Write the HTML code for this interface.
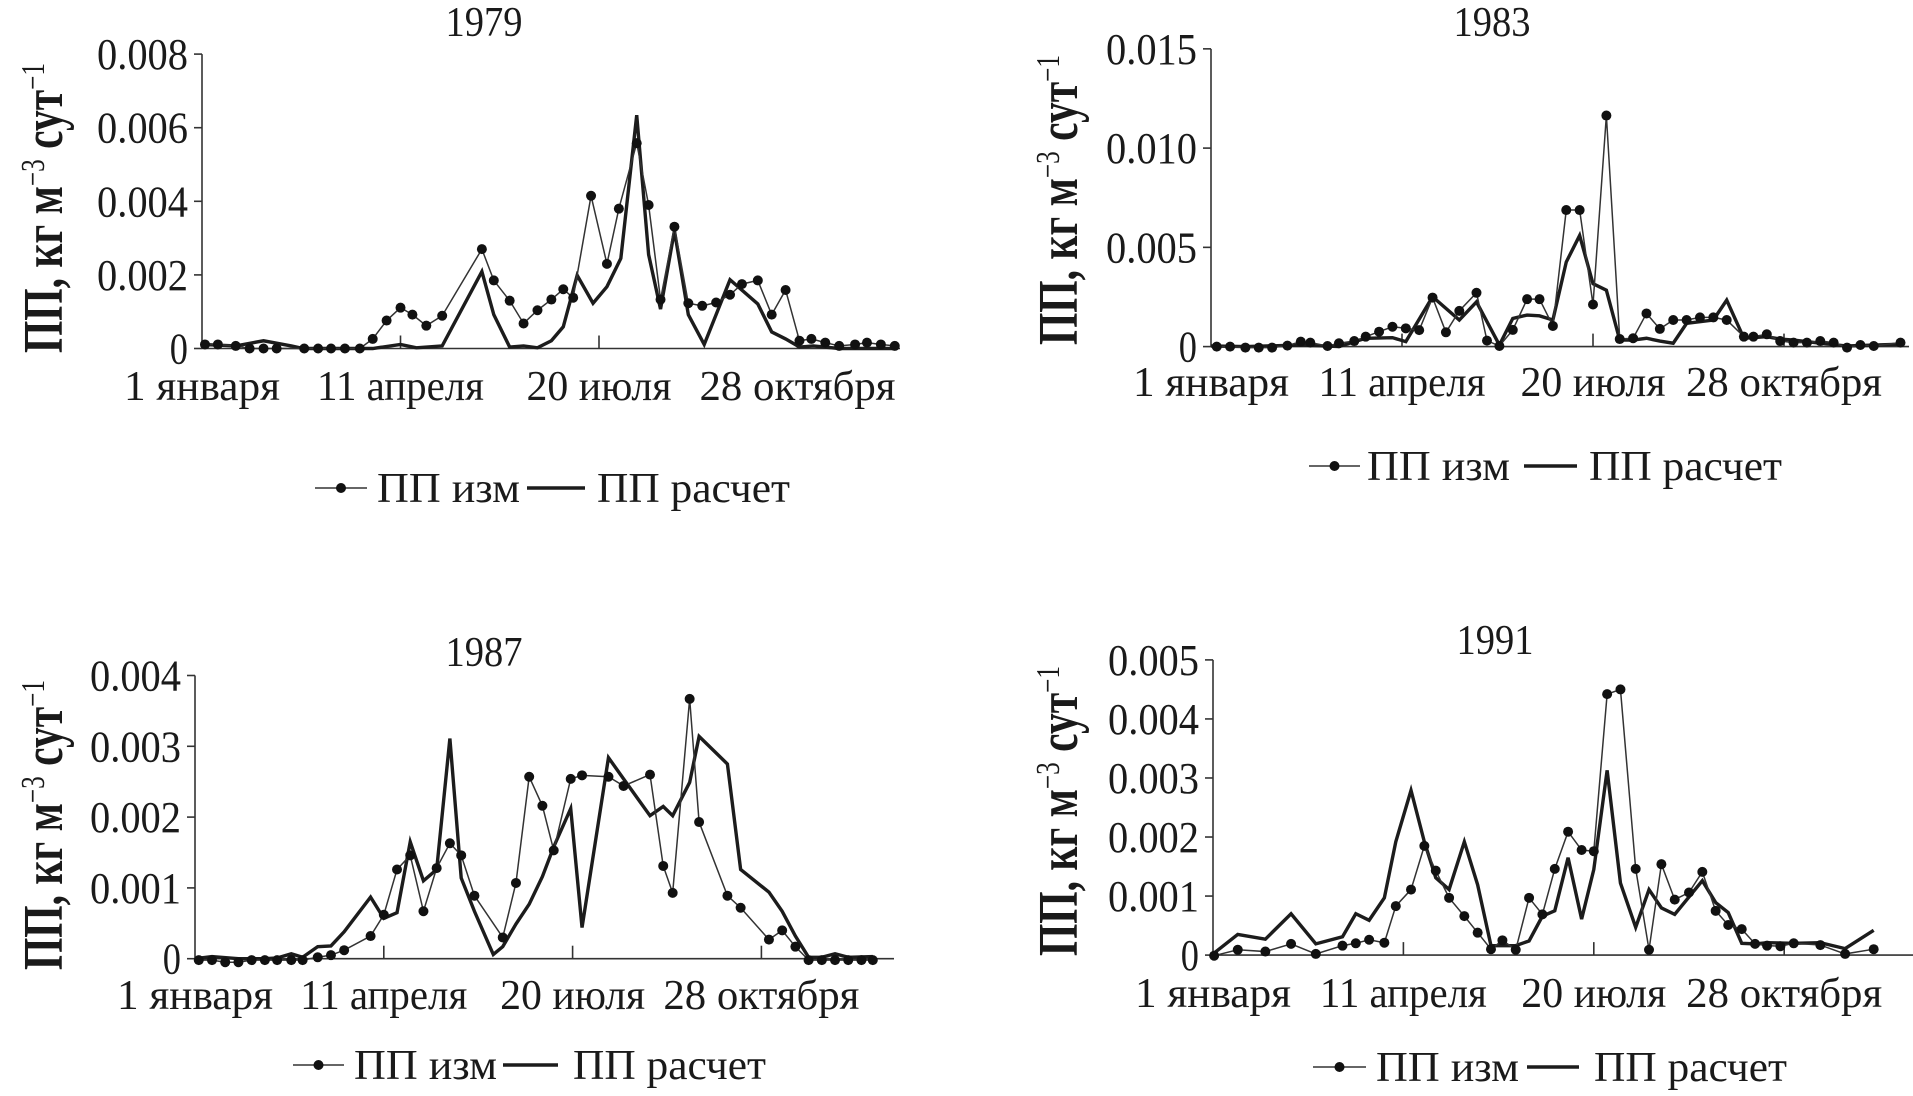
<!DOCTYPE html>
<html><head><meta charset="utf-8">
<style>
html,body{margin:0;padding:0;background:#fff;}
svg{display:block;}
text{font-family:"Liberation Serif","Noto Serif CJK SC",serif;fill:#1a1a1a;}
</style></head>
<body>
<svg id="chart" width="1913" height="1096" viewBox="0 0 1913 1096" xmlns="http://www.w3.org/2000/svg"></svg>
<script>
// ---- data (values in units of 0.001 кг м-3 сут-1; x in days from 1 January) ----
const xTickDays = [0, 100, 200, 300];
const xTickLabels = ["1 января", "11 апреля", "20 июля", "28 октября"];
const legendLabels = ["ПП изм", "ПП расчет"];

const m1979Days = [1.5,8,17,24,31,37.6,51.5,58.5,65,72,79.5,86,93,100,106,113,121,141,147,155,162,169,176,182,187,196,204,210,219,225,231,238,245,252,259,266,272,280,287,294,301,307,314,321,329,335,342,349];
const m1979Vals = [0.11,0.11,0.07,0,0,0,0,0,0,0,0,0.26,0.76,1.11,0.92,0.62,0.89,2.70,1.85,1.30,0.68,1.04,1.33,1.61,1.38,4.15,2.30,3.80,5.58,3.90,1.33,3.31,1.23,1.16,1.25,1.46,1.75,1.85,0.92,1.59,0.21,0.26,0.16,0.07,0.11,0.16,0.11,0.07];
const c1979Days = [0,17,31,45,51,86,100,108,121,141,147,155,162,169,176,182,189,197,204,211,219,225,231,238,245,253,266,280,287,294,301,308,321,349];
const c1979Vals = [0.11,0.07,0.21,0.07,0,0,0.11,0.02,0.07,2.09,0.92,0.04,0.07,0.02,0.21,0.59,1.99,1.23,1.68,2.45,6.34,2.55,1.07,3.20,0.92,0.11,1.87,1.21,0.45,0.26,0.04,0.07,0,0];
const y1979Ticks = [0,2,4,6,8];
const y1979Labels = ["0","0.002","0.004","0.006","0.008"];

const m1983Days = [3,10,18,25,32,40,47,52,61,67,75,81,88,95,102,109,116,123,130,139,144.5,151,158,165.5,172,179,186,193,200,207,214,221,228,235,242,249,256,263,270,279,284,291,298,305,312,319,326,333,340,347,361];
const m1983Vals = [0,0,-0.05,-0.05,-0.05,0.05,0.25,0.20,0.03,0.17,0.28,0.50,0.75,1.00,0.92,0.83,2.47,0.72,1.80,2.71,0.30,0.03,0.84,2.39,2.39,1.04,6.88,6.88,2.12,11.64,0.38,0.42,1.67,0.89,1.34,1.34,1.47,1.47,1.34,0.50,0.50,0.62,0.28,0.20,0.20,0.28,0.20,-0.05,0.08,0.03,0.20];
const c1983Days = [0,18,47,67,81,95,102,116,130,139,151,158,165.5,172,179,186,193,200,207,214,221,228,235,242,249,263,270,279,291,298,305,319,333,361];
const c1983Vals = [0.03,0,0.08,0,0.42,0.45,0.25,2.51,1.34,2.25,0.08,1.42,1.59,1.55,1.34,4.26,5.60,3.17,2.84,0.33,0.33,0.42,0.28,0.17,1.17,1.34,2.34,0.42,0.50,0.38,0.33,0.17,0.03,0.12];
const y1983Ticks = [0,5,10,15];
const y1983Labels = ["0","0.005","0.010","0.015"];

const m1987Days = [2,9,16,23,30,37,43.5,51,57,65,72,79,93,100,107,114,121,128,135,141,148,163,170,177,184,190,199,205,219,227,241,248,253,262,267,282,289,304,311,318,325,332,339,346,353,359];
const m1987Vals = [-0.02,-0.02,-0.05,-0.05,-0.02,-0.02,-0.02,-0.02,-0.02,0.02,0.05,0.12,0.32,0.62,1.26,1.46,0.67,1.28,1.63,1.46,0.89,0.30,1.07,2.57,2.16,1.53,2.54,2.59,2.57,2.44,2.60,1.31,0.93,3.67,1.93,0.89,0.72,0.27,0.40,0.17,-0.02,-0.02,-0.02,-0.02,-0.02,-0.02];
const c1987Days = [0,9,23,37,43.5,51,57,65,72,79,93,100,107,114,121,128,135,141,148,156.5,158,163,170,177,184,190,199,205,219,227,241,248,253,262,267,282,289,304,311,318,325,332,339,346,359];
const c1987Vals = [0,0.03,0,0,0.01,0.07,0.02,0.17,0.18,0.38,0.87,0.57,0.65,1.65,1.10,1.26,3.11,1.14,0.67,0.15,0.06,0.17,0.49,0.77,1.16,1.58,2.12,0.44,2.84,2.54,2.02,2.15,2.02,2.49,3.14,2.75,1.26,0.94,0.67,0.32,0.02,0.02,0.07,0.02,0.03];
const y1987Ticks = [0,1,2,3,4];
const y1987Labels = ["0","0.001","0.002","0.003","0.004"];

const m1991Days = [0.6,13,27.5,41,54,68,75,82,90,96,104,111,117,124,132,139,146,152,159,166,173,179.5,186.5,193.6,200,207,214,222,229,235.5,242.5,250,257,264,270.6,277.7,284.7,291,298,305,319,332,347];
const m1991Vals = [-0.01,0.09,0.06,0.19,0.02,0.16,0.20,0.26,0.21,0.83,1.11,1.85,1.43,0.97,0.66,0.38,0.10,0.25,0.09,0.97,0.69,1.46,2.09,1.78,1.76,4.42,4.50,1.46,0.09,1.54,0.94,1.06,1.41,0.75,0.51,0.44,0.19,0.16,0.15,0.20,0.17,0.02,0.10];
const c1991Days = [0,13,27.5,41,54,68,75,82,90,96,104,111,117,124,132,139,146,159,166,173,179.5,186.5,193.6,200,207,214,222,229,235.5,242.5,257,264,270.6,277.7,284.7,291,305,319,332,347];
const c1991Vals = [0.02,0.35,0.27,0.70,0.19,0.31,0.70,0.59,0.97,1.92,2.79,1.92,1.31,1.11,1.92,1.19,0.16,0.16,0.24,0.66,0.75,1.65,0.61,1.45,3.13,1.22,0.47,1.11,0.80,0.69,1.26,0.89,0.72,0.20,0.19,0.21,0.20,0.21,0.11,0.42];
const y1991Ticks = [0,1,2,3,4,5];
const y1991Labels = ["0","0.001","0.002","0.003","0.004","0.005"];

// ---- layout (pixel geometry, not data) ----
const NS = "http://www.w3.org/2000/svg";
const svg = document.getElementById("chart");
function mk(tag, attrs, parent) {
  const e = document.createElementNS(NS, tag);
  for (const k in attrs) e.setAttribute(k, attrs[k]);
  (parent || svg).appendChild(e);
  return e;
}
const xLabelWidths = [156, 167, 145, 196];

function panel(cfg) {
  const g = mk("g", {});
  
  
  const xs = d => cfg.x0 + d * cfg.pxDay;
  const ys = v => cfg.yZero - v * cfg.pxUnit;

  const title = mk("text", {x: cfg.titleX, y: cfg.titleY, "font-size": 42, "text-anchor": "middle", textLength: 77, lengthAdjust: "spacingAndGlyphs"}, g);
  title.textContent = cfg.title;
  
  

  const yTop = ys(cfg.yTicks[cfg.yTicks.length - 1]);
  const ya = mk("line", {x1: cfg.x0, y1: yTop, x2: cfg.x0, y2: cfg.yZero, stroke: "#333", "stroke-width": 1.6}, g);
  
  
  cfg.yTicks.forEach((t, i) => {
    const y = ys(t);
    const tk = mk("line", {x1: cfg.x0 - 8, y1: y, x2: cfg.x0, y2: y, stroke: "#333", "stroke-width": 1.6}, g);
    
    
    const lbl = cfg.yLabels[i];
    const tl = mk("text", {x: cfg.x0 - 14, y: y + 15, "font-size": 44, "text-anchor": "end", textLength: lbl.length * 18.2, lengthAdjust: "spacingAndGlyphs"}, g);
    tl.textContent = lbl;
    
    
  });
  const xa = mk("line", {x1: cfg.x0, y1: cfg.yZero, x2: cfg.xEnd, y2: cfg.yZero, stroke: "#333", "stroke-width": 1.6}, g);
  
  
  xTickDays.forEach((d, i) => {
    const x = xs(d);
    if (d > 0) {
      const tk = mk("line", {x1: x, y1: cfg.yZero - 13, x2: x, y2: cfg.yZero, stroke: "#333", "stroke-width": 1.6}, g);
      
      
    }
    const tl = mk("text", {x: x, y: cfg.xLabelY, "font-size": 42, "text-anchor": "middle", textLength: xLabelWidths[i], lengthAdjust: "spacingAndGlyphs"}, g);
    tl.textContent = xTickLabels[i];
    
    
  });
  const yt = mk("text", {transform: `translate(${cfg.yTitleX},${cfg.yTitleY}) rotate(-90)`, "font-size": 56, "font-weight": "bold", "text-anchor": "middle", textLength: 290, lengthAdjust: "spacingAndGlyphs"}, g);
  yt.innerHTML = 'ПП, кг м<tspan baseline-shift="super" font-size="34" font-weight="normal">−3</tspan> сут<tspan baseline-shift="super" font-size="34" font-weight="normal">−1</tspan>';
  
  

  const cp = mk("polyline", {points: cfg.cDays.map((d, i) => xs(d) + "," + ys(cfg.cVals[i])).join(" "), fill: "none", stroke: "#1c1c1c", "stroke-width": 3.4}, g);
  
  
  const mp = mk("polyline", {points: cfg.mDays.map((d, i) => xs(d) + "," + ys(cfg.mVals[i])).join(" "), fill: "none", stroke: "#333", "stroke-width": 1.5}, g);
  
  
  cfg.mDays.forEach((d, i) => {
    const c = mk("circle", {cx: xs(d), cy: ys(cfg.mVals[i]), r: 5, fill: "#111"}, g);
    
    
  });

  const L = cfg.legend;
  const lg = mk("g", {}, g);
  
  
  const l1 = mk("line", {x1: L.m1, y1: L.y, x2: L.m2, y2: L.y, stroke: "#666", "stroke-width": 2}, lg);
  
  
  const ld = mk("circle", {cx: (L.m1 + L.m2) / 2, cy: L.y, r: 5, fill: "#111"}, lg);
  
  
  const t1 = mk("text", {x: L.t1, y: L.y + 14, "font-size": 42, textLength: 143, lengthAdjust: "spacingAndGlyphs"}, lg);
  t1.textContent = legendLabels[0];
  
  
  const l2 = mk("line", {x1: L.c1, y1: L.y, x2: L.c2, y2: L.y, stroke: "#1c1c1c", "stroke-width": 3.6}, lg);
  
  
  const t2 = mk("text", {x: L.t2, y: L.y + 14, "font-size": 42, textLength: 193, lengthAdjust: "spacingAndGlyphs"}, lg);
  t2.textContent = legendLabels[1];
  
  
}

panel({title: "1979", titleX: 484, titleY: 36, x0: 202, pxDay: 1.985, xEnd: 900, yZero: 348.5, pxUnit: 36.8,
  yTicks: y1979Ticks, yLabels: y1979Labels, xLabelY: 400, yTitleX: 62, yTitleY: 208,
  mDays: m1979Days, mVals: m1979Vals, cDays: c1979Days, cVals: c1979Vals,
  legend: {y: 488, m1: 315, m2: 367, t1: 377, c1: 527, c2: 585, t2: 597}});
panel({title: "1983", titleX: 1492, titleY: 36, x0: 1211, pxDay: 1.910, xEnd: 1909, yZero: 346.6, pxUnit: 19.85,
  yTicks: y1983Ticks, yLabels: y1983Labels, xLabelY: 396, yTitleX: 1077, yTitleY: 200,
  mDays: m1983Days, mVals: m1983Vals, cDays: c1983Days, cVals: c1983Vals,
  legend: {y: 466, m1: 1309, m2: 1360, t1: 1367, c1: 1524, c2: 1577, t2: 1589}});
panel({title: "1987", titleX: 484, titleY: 666, x0: 195, pxDay: 1.888, xEnd: 894, yZero: 958.7, pxUnit: 70.8,
  yTicks: y1987Ticks, yLabels: y1987Labels, xLabelY: 1009, yTitleX: 62, yTitleY: 825,
  mDays: m1987Days, mVals: m1987Vals, cDays: c1987Days, cVals: c1987Vals,
  legend: {y: 1065, m1: 293, m2: 344, t1: 354, c1: 503, c2: 558, t2: 573}});
panel({title: "1991", titleX: 1495, titleY: 654, x0: 1213, pxDay: 1.904, xEnd: 1913, yZero: 955.1, pxUnit: 59.04,
  yTicks: y1991Ticks, yLabels: y1991Labels, xLabelY: 1007, yTitleX: 1077, yTitleY: 811,
  mDays: m1991Days, mVals: m1991Vals, cDays: c1991Days, cVals: c1991Vals,
  legend: {y: 1067, m1: 1313, m2: 1366, t1: 1376, c1: 1527, c2: 1579, t2: 1594}});
</script>
</body></html>
